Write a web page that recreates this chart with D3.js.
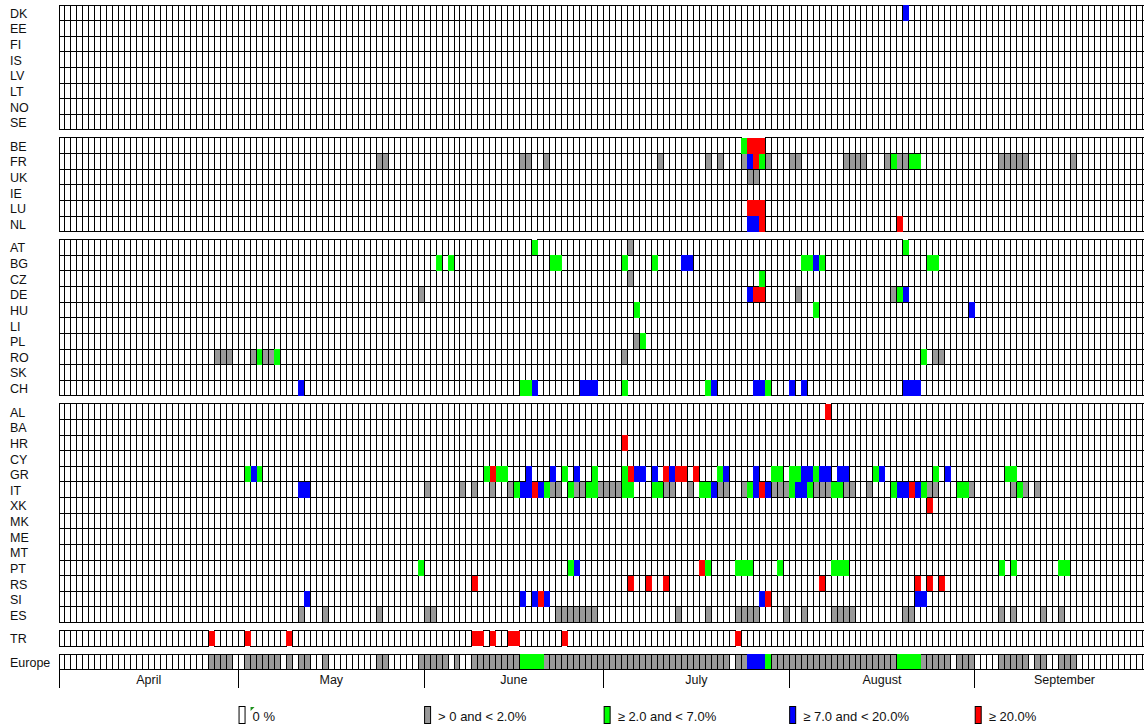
<!DOCTYPE html>
<html><head><meta charset="utf-8">
<script src="https://cdn.jsdelivr.net/npm/d3@7"></script>
<style>html,body{margin:0;padding:0;overflow:hidden;background:#fff}</style>
</head><body><div id="chart"></div>
<script>
// ---------------- data ----------------
const groups = [
  ["DK","EE","FI","IS","LV","LT","NO","SE"],
  ["BE","FR","UK","IE","LU","NL"],
  ["AT","BG","CZ","DE","HU","LI","PL","RO","SK","CH"],
  ["AL","BA","HR","CY","GR","IT","XK","MK","ME","MT","PT","RS","SI","ES"],
  ["TR"],
  ["Europe"]
];
const year = 2023;
const firstDay = "04-01", lastDay = "09-30";
const months = ["April","May","June","July","August","September"];
const levelLabels = ["0 %","> 0 and < 2.0%","\u2265 2.0 and < 7.0%","\u2265 7.0 and < 20.0%","\u2265 20.0%"];
const levelColors = ["#ffffff","#999999","#00ff00","#0000ff","#ff0000"];

// runs: [from, to, level] or [day, level]; level 1 grey, 2 green, 3 blue, 4 red
const DK = [["08-20",3]];
const BE = [["07-24",2],["07-25","07-27",4]];
const FR = [["05-24","05-25",1],["06-17","06-18",1],["06-21",1],["07-10",1],["07-18",1],["07-20",1],["07-24",1],["07-25",3],["07-26",4],["07-27",2],["07-28",1],["08-01","08-02",1],["08-10","08-13",1],["08-17",1],["08-18",2],["08-19","08-20",1],["08-21","08-22",2],["09-05","09-09",1],["09-17",1]];
const UK = [["07-25","07-26",1]];
const LU = [["07-25","07-27",4]];
const NL = [["07-25","07-26",3],["07-27",4],["08-19",4]];
const AT = [["06-19",2],["07-05",1],["08-20",2]];
const BG = [["06-03",2],["06-05",2],["06-22","06-23",2],["07-04",2],["07-09",2],["07-14","07-15",3],["08-03","08-04",2],["08-05",3],["08-06",2],["08-24","08-25",2]];
const CZ = [["07-05",1],["07-27",2]];
const DE = [["05-31",1],["07-25",3],["07-26","07-27",4],["08-02",1],["08-18",1],["08-19",2],["08-20",3]];
const HU = [["07-06",2],["08-05",2],["08-31",3]];
const PL = [["07-06",1],["07-07",2]];
const RO = [["04-27","04-29",1],["05-03",1],["05-04",2],["05-05","05-06",1],["05-07",2],["07-04",1],["08-23",2],["08-25","08-26",1]];
const CH = [["05-11",3],["06-17","06-18",2],["06-19",3],["06-27","06-29",3],["07-04",2],["07-18",2],["07-19",3],["07-26","07-27",3],["07-28",2],["08-01",3],["08-03",3],["08-20","08-22",3]];
const AL = [["08-07",4]];
const HR = [["07-04",4]];
const GR = [["05-02",2],["05-03",3],["05-04",2],["06-11",2],["06-12",4],["06-13","06-14",2],["06-18",3],["06-22",3],["06-24",2],["06-26",3],["06-29",2],["07-04",2],["07-05",4],["07-06","07-07",3],["07-09",3],["07-11",4],["07-12",3],["07-13","07-14",4],["07-16",4],["07-20",2],["07-21",3],["07-26",3],["07-29","07-30",2],["08-01","08-02",2],["08-03","08-04",3],["08-05",2],["08-06","08-07",3],["08-09","08-10",3],["08-15",2],["08-16",3],["08-25",2],["08-27",3],["09-06","09-07",2]];
const IT = [["05-11","05-12",3],["06-01",1],["06-07",1],["06-09",1],["06-12",1],["06-15",1],["06-16",2],["06-17","06-18",3],["06-19",4],["06-20",3],["06-21",2],["06-22","06-23",1],["06-25",2],["06-26","06-27",1],["06-28","06-29",2],["06-30","07-03",1],["07-04","07-05",2],["07-09","07-10",2],["07-11","07-12",1],["07-15",1],["07-17","07-18",2],["07-19",3],["07-20","07-21",1],["07-24",1],["07-25",2],["07-26",3],["07-27",4],["07-28",3],["07-29","07-31",1],["08-01",2],["08-02","08-03",3],["08-04",2],["08-05","08-07",1],["08-08","08-09",2],["08-10","08-11",1],["08-14",1],["08-18",2],["08-19","08-20",3],["08-21",4],["08-22",3],["08-23",2],["08-24","08-25",1],["08-29","08-30",2],["08-31",1],["09-07",1],["09-08",2],["09-09",1],["09-11",1]];
const XK = [["08-24",4]];
const PT = [["05-31",2],["06-25",2],["06-26",3],["07-17",4],["07-18",2],["07-23","07-25",2],["07-30",2],["08-08","08-10",2],["09-05",2],["09-07",2],["09-15","09-16",2]];
const RS = [["06-09",4],["07-05",4],["07-08",4],["07-11",4],["08-06",4],["08-22",4],["08-24",4],["08-26",4]];
const SI = [["05-12",3],["06-17",3],["06-19",3],["06-20",4],["06-21",3],["07-27",3],["07-28",4],["08-22","08-23",3]];
const ES = [["05-11",1],["05-15",1],["05-24",1],["06-01","06-02",1],["06-23","06-29",1],["07-13",1],["07-18",1],["07-23","07-26",1],["07-31",1],["08-03",1],["08-08","08-11",1],["08-20","08-21",1],["09-05",1],["09-07",1],["09-12",1],["09-15",1]];
const TR = [["04-26",4],["05-02",4],["05-09",4],["06-09","06-10",4],["06-12",4],["06-15","06-16",4],["06-24",4],["07-23",4]];
const Europe = [["04-26","04-29",1],["05-02","05-07",1],["05-09",1],["05-11","05-12",1],["05-15",1],["05-24","05-25",1],["05-31","06-04",1],["06-06",1],["06-09","06-16",1],["06-17","06-20",2],["06-21","07-21",1],["07-23","07-24",1],["07-25","07-27",3],["07-28",2],["07-29","08-18",1],["08-19","08-22",2],["08-23","08-27",1],["08-29","08-31",1],["09-05","09-09",1],["09-11","09-12",1],["09-15","09-17",1]];

const runsByCode = {DK,BE,FR,UK,LU,NL,AT,BG,CZ,DE,HU,PL,RO,CH,AL,HR,GR,IT,XK,PT,RS,SI,ES,TR,Europe};

// ---------------- layout ----------------
const W = 1165, H = 727;
const gridLeft = 59, cellW = 5.985, gridTop = 5, rowH = 15.62, gapH = 8;
const parse = s => new Date(Date.UTC(year, +s.slice(0,2)-1, +s.slice(3,5)));
const start = parse(firstDay), end = d3.utcDay.offset(parse(lastDay), 1);
const days = d3.utcDays(start, end);
const x = d3.scaleUtc().domain([start, end]).range([gridLeft, gridLeft + days.length*cellW]);

const rows = [];
let slot = 0;
groups.forEach((g, gi) => {
  if (gi > 0) slot += gapH/rowH;
  g.forEach(code => { rows.push({code, slot}); slot += 1; });
});
const y = d3.scaleLinear().domain([0, slot]).range([gridTop, gridTop + slot*rowH]);
const gridBottom = y(slot);

const svg = d3.select("#chart").append("svg").attr("width", W).attr("height", H)
  .style("font-family", "Arial, 'Liberation Sans', sans-serif");

// expand runs into per-day levels
const cells = [];
rows.forEach(r => {
  const lv = new Map();
  (runsByCode[r.code] || []).forEach(run => {
    const [a, b, l] = run.length === 2 ? [run[0], run[0], run[1]] : run;
    d3.utcDays(parse(a), d3.utcDay.offset(parse(b), 1)).forEach(d => lv.set(+d, l));
  });
  days.forEach(d => cells.push({r, d, level: lv.get(+d) || 0}));
});

const base = cells.filter(c => c.level <= 1);
const strong = cells.filter(c => c.level >= 2);

svg.append("g").selectAll("rect").data(base).join("rect")
  .attr("x", c => x(c.d)).attr("y", c => y(c.r.slot))
  .attr("width", c => x(d3.utcDay.offset(c.d,1)) - x(c.d))
  .attr("height", c => y(c.r.slot+1) - y(c.r.slot))
  .attr("fill", c => levelColors[c.level])
  .attr("stroke", "#000").attr("stroke-width", 1)
  .attr("shape-rendering", "crispEdges");

svg.append("g").selectAll("rect").data(strong).join("rect")
  .attr("x", c => x(c.d)).attr("y", c => y(c.r.slot))
  .attr("width", c => x(d3.utcDay.offset(c.d,1)) - x(c.d))
  .attr("height", c => y(c.r.slot+1) - y(c.r.slot))
  .attr("fill", c => levelColors[c.level])
  .attr("shape-rendering", "crispEdges");

// row labels
svg.append("g").selectAll("text").data(rows).join("text")
  .attr("x", 10).attr("y", r => y(r.slot + 0.5) + 1)
  .attr("dominant-baseline", "central")
  .attr("font-size", 12.5).attr("fill", "#111")
  .text(r => r.code);

// month axis
const monthStarts = d3.utcMonths(start, end);
const ax = svg.append("g").attr("shape-rendering", "crispEdges");
ax.append("line").attr("x1", x(start)).attr("x2", x(end)).attr("y1", gridBottom).attr("y2", gridBottom)
  .attr("stroke", "#000");
ax.selectAll("line.tick").data(monthStarts.concat([end])).join("line").attr("class","tick")
  .attr("x1", d => x(d)).attr("x2", d => x(d))
  .attr("y1", gridBottom).attr("y2", gridBottom + 18).attr("stroke", "#000");
svg.append("g").selectAll("text").data(monthStarts).join("text")
  .attr("x", d => (x(d) + x(d3.utcMonth.offset(d,1))) / 2)
  .attr("y", gridBottom + 14).attr("text-anchor", "middle")
  .attr("font-size", 12.5).attr("fill", "#111")
  .text((d, i) => months[i]);

// legend (items aligned with month boundaries May..Sep)
const legendX = monthStarts.slice(1).map(d => x(d));
const lg = svg.append("g").selectAll("g").data(levelLabels).join("g")
  .attr("transform", (d, i) => `translate(${legendX[i]},706)`);
lg.append("rect").attr("x", 0.5).attr("y", 0.5).attr("width", 6).attr("height", 17)
  .attr("fill", (d, i) => levelColors[i]).attr("stroke", "#000");
lg.append("text").attr("x", 14).attr("y", 10).attr("dominant-baseline", "central")
  .attr("font-size", 13).attr("fill", "#111").text(d => d);
lg.filter((d, i) => i === 0).append("path")
  .attr("d", "M12,1 L16,1 L12,5 Z").attr("fill", "#1a8f1a");
</script>
</body></html>
